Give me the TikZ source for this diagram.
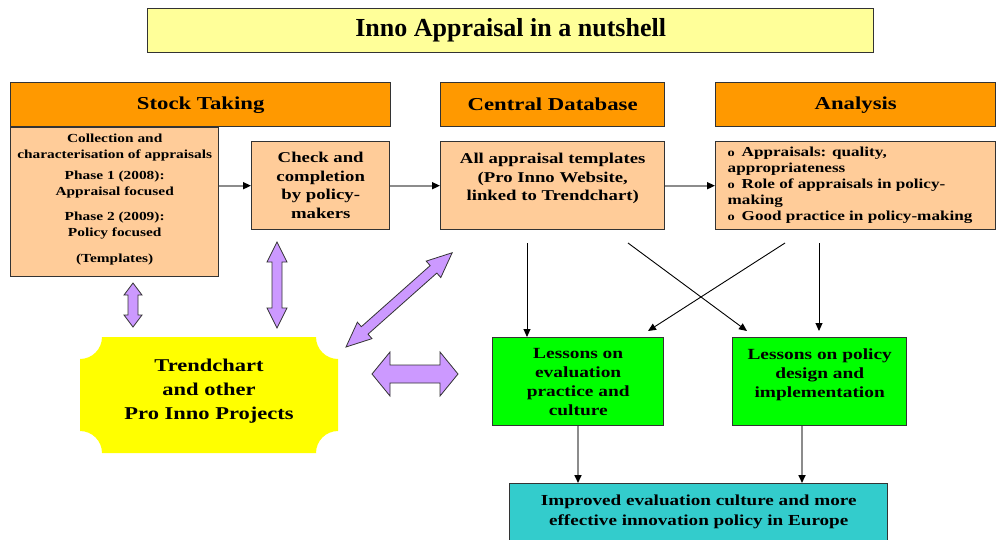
\documentclass[tikz,border=0pt]{standalone}
\usepackage{fontspec}
\setmainfont{Liberation Serif}
\newfontfamily\wf{Liberation Serif}[FakeStretch=1.25]
\usetikzlibrary{arrows.meta}
\definecolor{ttlY}{HTML}{FFFF99}
\definecolor{hdrO}{HTML}{FF9900}
\definecolor{lgtO}{HTML}{FFCC99}
\definecolor{grnB}{HTML}{00FF00}
\definecolor{cyaB}{HTML}{33CCCC}
\definecolor{purA}{HTML}{CC99FF}
\definecolor{yelB}{HTML}{FFFF00}
\definecolor{bordr}{HTML}{333333}
\newcommand\tb[4]{\parbox[c][#2][t]{#1}{\centering\vspace*{#3}#4}}
\newcommand\dblarr[4]{\filldraw[purarrow] (0,0) -- (#4,#3) -- (#4,#2) -- ({#1-#4},#2) -- ({#1-#4},#3) -- (#1,0) -- ({#1-#4},-#3) -- ({#1-#4},-#2) -- (#4,-#2) -- (#4,-#3) -- cycle;}
\newcommand\anitem[1]{\par\noindent\hangindent=14pt\hangafter=1\makebox[14pt][l]{\fontsize{11.5}{11}\selectfont o}#1}
\begin{document}
\begin{tikzpicture}[x=1pt,y=-1pt,
  box/.style={draw=bordr, line width=1.4pt, inner sep=0pt, anchor=north west},
  hdrfont/.style={font=\wf\fontsize{18.2}{22}\selectfont\bfseries},
  bodyfont/.style={font=\wf\fontsize{15}{18.6}\selectfont\bfseries},
  purarrow/.style={draw=bordr, line width=0.8pt, fill=purA, line join=miter},
  gconn/.style={draw=black!45, line width=1.6pt, -{Triangle[length=8pt,width=7pt,color=black]}},
  bconn/.style={draw=black, line width=0.9pt, -{Triangle[length=8pt,width=7pt]}}]
\useasboundingbox (0,0) rectangle (996,539);

% title and headers
\node[box, fill=ttlY, minimum width=726pt, minimum height=44pt, font=\fontsize{26}{30}\selectfont\bfseries] (title) at (147,8) {Inno Appraisal in a nutshell};
\node[box, fill=hdrO, minimum width=380pt, minimum height=44pt, hdrfont] (hst) at (10,82) {Stock Taking};
\node[box, fill=hdrO, minimum width=224pt, minimum height=44pt, hdrfont] (hdb) at (440,82) {Central Database};
\node[box, fill=hdrO, minimum width=280pt, minimum height=44pt, hdrfont] (han) at (715,82) {Analysis};

% content boxes
\node[box, fill=lgtO, font=\wf\fontsize{12.3}{16}\selectfont\bfseries] (coll) at (10,127)
  {\tb{208pt}{149pt}{6pt}{Collection and\\characterisation of appraisals\\[5pt]Phase 1 (2008):\\Appraisal focused\\[9pt]Phase 2 (2009):\\Policy focused\\[10pt](Templates)}};
\node[box, fill=lgtO, bodyfont] (chk) at (251,141)
  {\tb{138pt}{88pt}{10.5pt}{Check and\\completion\\by policy-\\makers}};
\node[box, fill=lgtO, bodyfont] (dbx) at (440,141)
  {\tb{224pt}{88pt}{11.5pt}{All appraisal templates\\(Pro Inno Website,\\linked to Trendchart)}};
\node[box, fill=lgtO, font=\wf\fontsize{13.7}{16}\selectfont\bfseries] (anl) at (715,141)
  {\parbox[c][88pt][t]{280pt}{\raggedright\leftskip=12pt\vspace*{5pt}%
   \anitem{Appraisals: quality,\\appropriateness}%
   \anitem{Role of appraisals in policy-\\making}%
   \anitem{Good practice in policy-making}\par}};

\node[box, fill=grnB, font=\wf\fontsize{15.5}{19}\selectfont\bfseries] (les1) at (492,337)
  {\tb{171pt}{88pt}{11pt}{Lessons on\\evaluation\\practice and\\culture}};
\node[box, fill=grnB, font=\wf\fontsize{15.5}{19}\selectfont\bfseries] (les2) at (732,337)
  {\tb{174pt}{88pt}{11pt}{Lessons on policy\\design and\\implementation}};
\node[box, fill=cyaB, font=\wf\fontsize{15.3}{20}\selectfont\bfseries] (imp) at (509,483)
  {\tb{378pt}{70pt}{11pt}{Improved evaluation culture and more\\effective innovation policy in Europe}};

% Trendchart plaque
\fill[yelB] (102,337) -- (316,337) arc[start angle=180,end angle=270,radius=22pt]
  -- (338,431) arc[start angle=90,end angle=180,radius=22pt]
  -- (102,453) arc[start angle=0,end angle=90,radius=22pt]
  -- (80,359) arc[start angle=270,end angle=360,radius=22pt] -- cycle;
\node[font=\wf\fontsize{18}{24}\selectfont\bfseries, align=center] (trend) at (209,391) {Trendchart\\and other\\Pro Inno Projects};

% purple double arrows
\begin{scope}[shift={(133,283)},rotate=-90] \dblarr{44}{5}{9}{12} \end{scope}
\begin{scope}[shift={(277,242)},rotate=-90] \dblarr{86}{5}{10}{20} \end{scope}
\begin{scope}[shift={(346,347)},rotate=41.6] \dblarr{142}{5}{11}{25} \end{scope}
\begin{scope}[shift={(372,374)}] \dblarr{86}{9}{22}{18} \end{scope}

% connectors
\draw[gconn] (coll.east |- chk.west) -- (chk.west);
\draw[gconn] (chk.east) -- (dbx.west);
\draw[gconn] (dbx.east) -- (anl.west);

\coordinate (s1) at (527,243);
\coordinate (s2) at (628,243);
\coordinate (e2) at (747,331);
\coordinate (s3) at (785,243);
\coordinate (e3) at (648,331);
\coordinate (s4) at (819,243);
\coordinate (e4) at (819,331);
\draw[bconn] (s1) -- (s1 |- les1.north);
\draw[bconn] (s2) -- (e2);
\draw[bconn] (s3) -- (e3);
\draw[bconn] (s4) -- (e4);

\coordinate (b1) at (578,0);
\coordinate (b2) at (802,0);
\draw[gconn] (les1.south -| b1) -- (imp.north -| b1);
\draw[gconn] (les2.south -| b2) -- (imp.north -| b2);
\end{tikzpicture}
\end{document}
